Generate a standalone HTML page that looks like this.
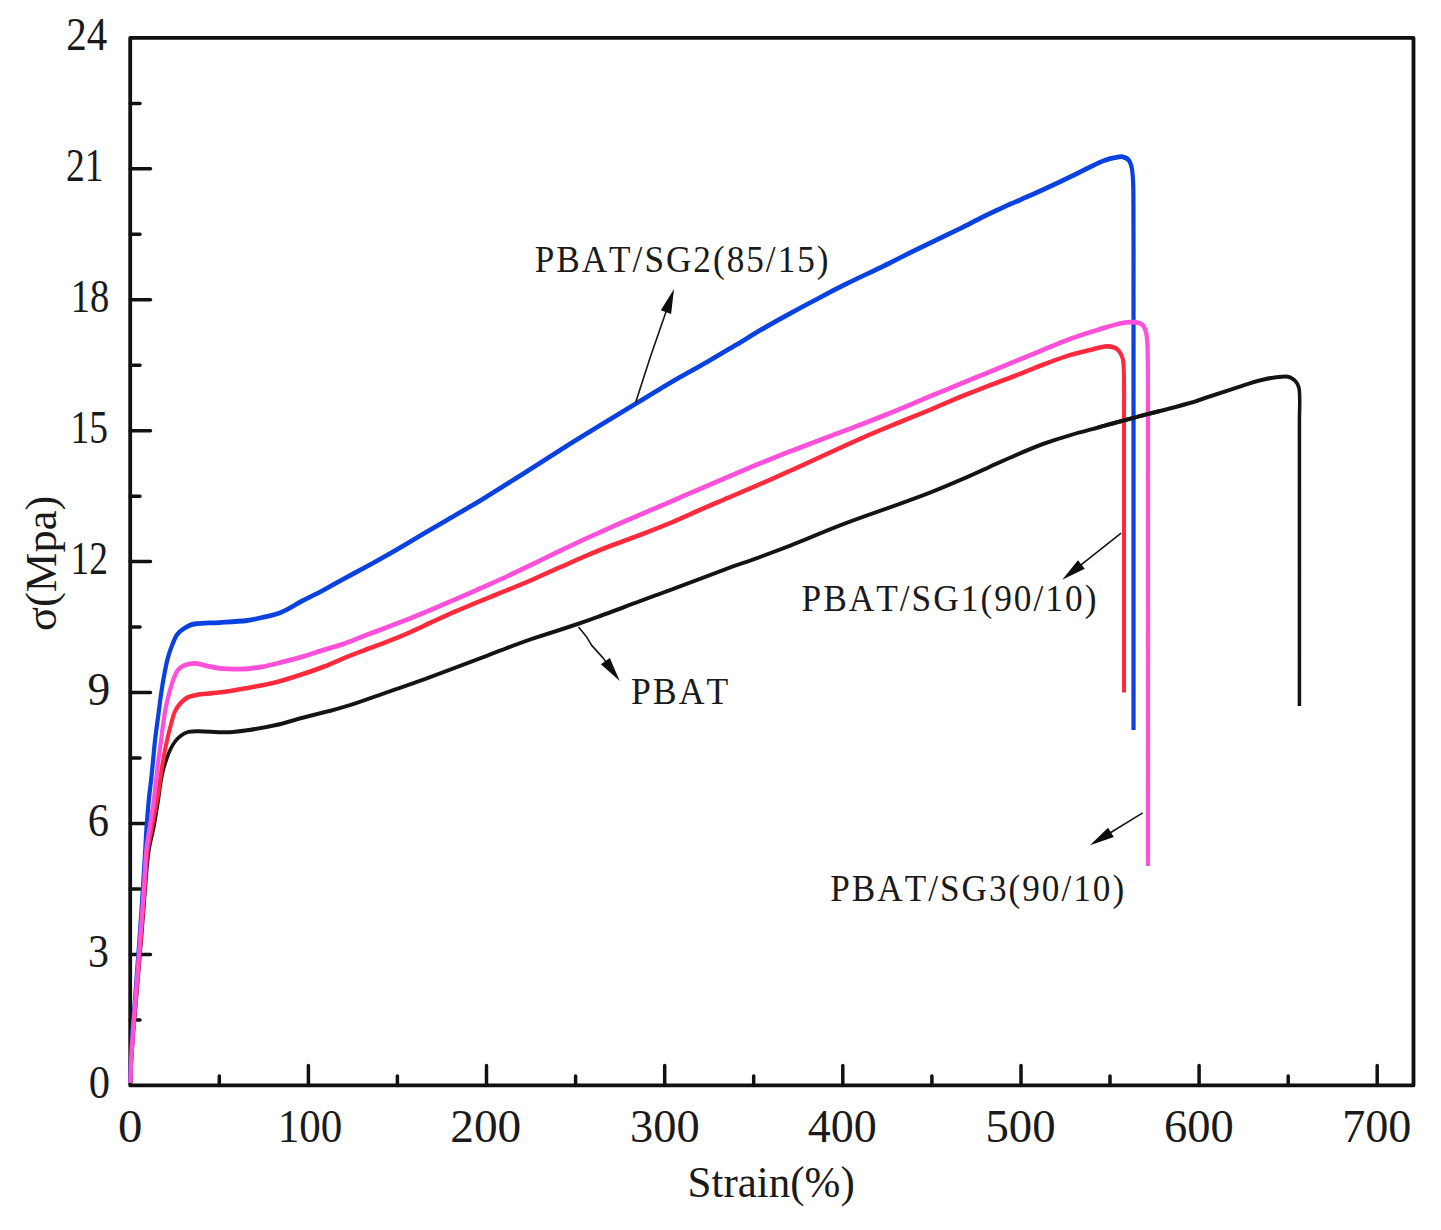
<!DOCTYPE html>
<html><head><meta charset="utf-8"><title>Stress-strain</title>
<style>html,body{margin:0;padding:0;background:#fff;overflow:hidden}svg{display:block}
text{font-family:"Liberation Serif",serif;fill:#1a1a1a;font-kerning:none}</style></head>
<body><svg width="1441" height="1230" viewBox="0 0 1441 1230" font-family="'Liberation Serif', serif" fill="#1a1a1a"><rect x="0" y="0" width="1441" height="1230" fill="#fff"/>
<path d="M219.3,1085.4V1075.9 M308.4,1085.4V1065.6 M397.4,1085.4V1075.9 M486.5,1085.4V1065.6 M575.6,1085.4V1075.9 M664.7,1085.4V1065.6 M753.7,1085.4V1075.9 M842.8,1085.4V1065.6 M931.9,1085.4V1075.9 M1021.0,1085.4V1065.6 M1110.0,1085.4V1075.9 M1199.1,1085.4V1065.6 M1288.2,1085.4V1075.9 M1377.2,1085.4V1065.6 M130.2,1019.9H140.0 M130.2,954.5H150.5 M130.2,889.0H140.0 M130.2,823.5H150.5 M130.2,758.1H140.0 M130.2,692.6H150.5 M130.2,627.1H140.0 M130.2,561.6H150.5 M130.2,496.2H140.0 M130.2,430.7H150.5 M130.2,365.2H140.0 M130.2,299.8H150.5 M130.2,234.3H140.0 M130.2,168.8H150.5 M130.2,103.4H140.0" stroke="#111" stroke-width="3.5" stroke-linecap="round" fill="none"/>
<rect x="130.2" y="37.9" width="1283.3" height="1047.5" stroke="#111" stroke-width="3.8" stroke-linejoin="round" fill="none"/>
<path transform="scale(0.880,1)" d="M148.4,1083.0 C148.8,1075.3 148.9,1067.7 149.4,1060.0 C150.1,1050.0 150.9,1040.0 151.8,1030.0 C152.7,1020.0 153.8,1010.0 154.8,1000.0 C155.7,990.0 156.7,980.0 157.6,970.0 C158.6,960.0 159.5,950.0 160.5,940.0 C161.4,930.0 162.3,920.0 163.2,910.0 C164.1,900.0 164.8,890.0 165.8,880.0 C166.8,870.3 167.5,860.6 169.1,851.0 C170.5,842.6 173.2,834.4 175.0,826.0 C176.8,817.4 178.4,808.7 179.9,800.0 C180.8,794.7 181.4,789.2 182.4,783.9 C183.3,779.0 184.3,774.1 185.7,769.3 C186.8,765.3 188.3,761.4 189.9,757.6 C191.1,754.6 192.4,751.6 194.0,748.8 C195.4,746.2 197.0,743.7 199.0,741.5 C201.0,739.3 203.2,737.2 205.7,735.6 C208.2,734.0 211.0,732.6 214.0,731.9 C217.8,731.1 221.7,731.2 225.6,731.2 C236.1,731.3 246.6,732.5 257.2,732.3 C265.1,732.2 273.0,731.2 280.9,730.2 C291.4,728.9 302.0,727.4 312.4,725.3 C323.0,723.2 333.4,720.1 344.0,717.7 C354.4,715.3 365.0,713.1 375.5,710.7 C382.9,709.0 390.4,707.3 397.7,705.2 C411.4,701.3 425.0,696.9 438.6,692.7 C453.6,688.1 468.6,683.7 483.5,678.9 C504.2,672.2 524.8,665.2 545.5,658.3 C555.3,655.0 565.1,651.5 575.0,648.3 C584.8,645.1 594.7,641.9 604.5,638.9 C614.4,636.0 624.2,633.3 634.1,630.5 C641.5,628.3 649.0,626.2 656.4,624.0 C663.8,621.8 671.2,619.5 678.5,617.1 C688.4,614.0 698.2,610.7 708.1,607.5 C714.5,605.3 720.9,603.1 727.3,601.1 C738.4,597.4 749.5,594.0 760.6,590.4 C771.7,586.7 782.8,583.0 793.9,579.3 C804.9,575.6 815.9,571.9 827.0,568.3 C838.1,564.8 849.3,561.6 860.3,558.1 C871.5,554.5 882.6,550.9 893.6,547.2 C898.8,545.5 903.9,543.5 909.1,541.7 C921.4,537.2 933.6,532.6 946.0,528.3 C958.3,524.0 970.6,520.0 983.0,516.1 C995.3,512.2 1007.7,508.6 1020.0,504.7 C1032.3,500.8 1044.6,496.9 1056.8,492.7 C1068.3,488.7 1079.6,484.5 1090.9,480.2 C1101.4,476.2 1111.8,472.0 1122.3,467.8 C1132.8,463.7 1143.2,459.4 1153.8,455.4 C1164.1,451.4 1174.5,447.5 1185.1,444.0 C1195.5,440.7 1206.0,437.8 1216.5,435.1 C1226.9,432.3 1237.5,430.0 1248.0,427.5 C1256.2,425.5 1264.5,423.4 1272.7,421.5 C1284.1,418.8 1295.4,416.1 1306.8,413.5 C1310.6,412.6 1314.4,411.9 1318.2,411.0 C1330.6,408.1 1343.0,405.3 1355.3,402.2 C1361.2,400.6 1367.0,398.7 1372.8,397.0 C1384.5,393.6 1396.2,390.2 1408.0,386.9 C1416.1,384.6 1424.2,381.9 1432.5,380.2 C1441.8,378.4 1451.1,376.4 1460.6,376.4 C1464.3,376.4 1468.2,377.8 1471.1,380.2 C1473.9,382.4 1475.9,385.9 1476.4,389.4 C1477.7,399.5 1476.6,409.8 1476.6,420.0 C1476.7,515.3 1476.6,610.7 1476.6,706.0" stroke="#141414" stroke-width="4.00" fill="none" stroke-linejoin="round" stroke-linecap="butt"/>
<path transform="scale(0.880,1)" d="M148.3,1083.0 C148.6,1075.3 148.8,1067.7 149.3,1060.0 C149.9,1050.0 150.7,1040.0 151.6,1030.0 C152.4,1020.0 153.5,1010.0 154.4,1000.0 C155.4,990.0 156.3,980.0 157.2,970.0 C158.1,960.0 159.0,950.0 159.9,940.0 C160.8,930.0 161.7,920.0 162.6,910.0 C163.5,900.0 164.2,890.0 165.1,880.0 C166.0,870.3 166.3,860.6 167.7,851.0 C169.0,842.6 171.2,834.3 173.0,826.0 C174.6,818.0 176.2,810.0 177.8,802.0 C178.5,798.9 179.3,795.8 179.9,792.7 C181.1,785.9 182.0,779.0 183.2,772.2 C184.2,766.3 185.3,760.4 186.5,754.6 C187.5,749.7 188.6,744.8 189.9,740.0 C191.1,735.1 192.5,730.2 194.0,725.4 C195.5,720.6 196.6,715.6 198.9,711.2 C200.6,707.9 203.2,705.1 205.9,702.5 C208.0,700.5 210.4,698.5 213.1,697.5 C217.6,695.8 222.5,695.0 227.3,694.3 C232.0,693.6 236.7,693.5 241.5,693.1 C246.2,692.7 251.0,692.4 255.7,691.8 C265.2,690.6 274.6,689.0 284.1,687.5 C293.6,685.9 303.1,684.6 312.5,682.5 C322.1,680.4 331.5,677.7 340.9,675.0 C350.4,672.3 359.9,669.4 369.3,666.2 C375.9,664.0 382.3,661.1 388.9,658.8 C397.2,655.8 405.7,653.0 414.1,650.2 C422.5,647.4 431.0,644.8 439.3,641.9 C447.8,639.0 456.2,636.0 464.5,632.8 C473.0,629.5 481.4,625.9 489.8,622.5 C498.2,619.1 506.5,615.7 515.0,612.4 C525.1,608.6 535.3,604.9 545.5,601.2 C555.3,597.6 565.2,594.2 575.0,590.7 C584.9,587.1 594.7,583.5 604.5,579.8 C614.4,576.0 624.2,572.1 634.1,568.2 C644.0,564.4 653.8,560.4 663.8,556.6 C673.5,553.0 683.4,549.4 693.3,546.0 C704.6,542.2 716.0,538.8 727.3,535.0 C738.4,531.2 749.5,527.5 760.6,523.4 C771.7,519.3 782.8,514.8 793.9,510.5 C804.9,506.2 816.0,502.1 827.0,497.9 C838.1,493.7 849.3,489.7 860.3,485.4 C871.5,481.2 882.5,476.8 893.6,472.4 C898.8,470.4 903.9,468.4 909.1,466.3 C921.4,461.4 933.7,456.3 946.0,451.4 C958.3,446.5 970.6,441.4 983.0,436.6 C995.2,431.9 1007.6,427.5 1020.0,423.0 C1032.3,418.5 1044.6,414.2 1056.8,409.8 C1068.2,405.6 1079.5,401.2 1090.9,397.0 C1101.3,393.3 1111.8,389.7 1122.3,386.1 C1132.7,382.6 1143.3,379.3 1153.8,375.7 C1164.2,372.2 1174.6,368.2 1185.1,364.7 C1195.5,361.3 1205.9,357.8 1216.5,354.9 C1224.3,352.8 1232.2,351.4 1240.1,349.7 C1245.3,348.6 1250.5,347.0 1255.8,346.5 C1258.9,346.2 1262.2,346.5 1265.2,347.3 C1267.4,347.9 1269.5,348.9 1271.0,350.5 C1273.2,352.8 1275.0,355.5 1275.8,358.5 C1277.1,363.6 1277.0,368.9 1277.2,374.1 C1277.5,389.4 1277.3,404.7 1277.3,420.0 C1277.3,510.8 1277.3,601.7 1277.3,692.5" stroke="#ff2a3c" stroke-width="4.60" fill="none" stroke-linejoin="round" stroke-linecap="butt"/>
<path transform="scale(0.880,1)" d="M148.1,1083.0 C148.3,1075.3 148.5,1067.7 148.9,1060.0 C149.4,1050.0 149.9,1040.0 150.7,1030.0 C151.4,1020.0 152.5,1010.0 153.4,1000.0 C154.3,990.0 155.1,980.0 155.9,970.0 C156.7,960.0 157.6,950.0 158.4,940.0 C159.2,930.0 160.0,920.0 160.8,910.0 C161.6,900.0 162.2,890.0 163.0,880.0 C163.6,870.3 164.3,860.7 165.0,851.0 C165.6,842.0 166.1,833.0 166.8,824.0 C167.5,816.0 168.2,808.0 169.1,800.0 C169.8,793.7 170.8,787.3 171.6,781.0 C172.5,773.7 173.3,766.3 174.1,759.0 C174.9,751.7 175.6,744.4 176.6,737.1 C177.6,729.7 178.8,722.4 179.9,715.1 C181.0,707.8 182.0,700.5 183.2,693.2 C184.2,687.3 185.2,681.4 186.5,675.6 C187.7,669.7 188.9,663.8 190.7,658.0 C192.0,653.5 193.8,649.2 195.7,644.9 C197.3,641.4 198.7,637.8 201.1,634.8 C203.3,632.2 206.1,630.1 209.1,628.5 C212.8,626.5 216.7,624.6 220.9,624.0 C230.3,622.6 239.9,623.2 249.3,622.6 C259.9,622.0 270.4,621.6 280.9,620.5 C286.6,619.9 292.2,618.7 297.7,617.5 C304.9,616.0 312.2,614.9 319.1,612.4 C327.3,609.5 334.8,604.9 342.7,601.3 C350.6,597.7 358.6,594.3 366.5,590.6 C374.4,586.9 382.2,582.9 390.1,579.1 C398.0,575.3 405.9,571.7 413.8,567.9 C421.7,564.1 429.5,560.3 437.4,556.4 C445.3,552.4 453.2,548.4 461.0,544.3 C469.0,540.2 476.8,536.0 484.8,531.9 C492.6,527.8 500.5,523.8 508.4,519.8 C521.6,513.0 535.0,506.4 548.1,499.4 C564.2,490.7 580.1,481.8 596.1,472.9 C612.2,463.9 628.0,454.8 644.1,445.9 C660.0,437.1 676.1,428.5 692.2,419.9 C703.8,413.6 715.6,407.4 727.3,401.1 C735.7,396.6 744.1,392.0 752.5,387.6 C759.2,384.1 766.0,380.6 772.7,377.2 C783.2,372.0 793.8,366.9 804.3,361.6 C814.9,356.3 825.3,350.7 835.8,345.2 C846.3,339.7 856.8,333.9 867.4,328.5 C877.8,323.2 888.3,318.0 898.9,313.0 C909.3,307.9 919.9,303.0 930.5,298.1 C940.9,293.2 951.4,288.4 961.9,283.8 C974.6,278.3 987.3,273.1 1000.0,267.7 C1003.3,266.3 1006.7,265.0 1010.0,263.5 C1018.4,259.8 1026.8,256.0 1035.2,252.3 C1043.6,248.7 1052.0,245.1 1060.5,241.5 C1070.6,237.2 1080.8,232.9 1090.9,228.6 C1099.4,224.9 1107.7,221.0 1116.1,217.3 C1124.5,213.7 1132.9,210.1 1141.4,206.8 C1149.7,203.4 1158.2,200.3 1166.6,197.1 C1175.0,193.8 1183.4,190.5 1191.8,187.0 C1200.3,183.6 1208.7,180.1 1217.0,176.5 C1225.5,172.9 1233.8,169.1 1242.3,165.5 C1246.4,163.7 1250.6,161.9 1254.9,160.5 C1258.8,159.2 1262.9,158.3 1266.9,157.6 C1269.9,157.1 1272.9,156.3 1275.8,156.9 C1278.5,157.4 1281.6,158.5 1283.2,160.8 C1285.7,164.6 1286.6,169.3 1287.0,173.8 C1288.2,184.1 1287.9,194.6 1288.0,205.0 C1288.2,236.7 1288.1,268.3 1288.1,300.0 C1288.1,443.3 1288.1,586.7 1288.1,730.0" stroke="#0a42e0" stroke-width="4.80" fill="none" stroke-linejoin="round" stroke-linecap="butt"/>
<path transform="scale(0.880,1)" d="M148.2,1083.0 C148.5,1075.3 148.7,1067.7 149.1,1060.0 C149.6,1050.0 150.3,1040.0 151.1,1030.0 C151.9,1020.0 153.0,1010.0 153.9,1000.0 C154.8,990.0 155.6,980.0 156.5,970.0 C157.3,960.0 158.2,950.0 159.1,940.0 C160.0,930.0 160.9,920.0 161.7,910.0 C162.5,900.0 163.3,890.0 164.1,880.0 C164.8,870.3 165.1,860.6 166.2,851.0 C167.3,842.3 169.0,833.7 170.5,825.0 C171.9,816.7 173.7,808.4 174.9,800.0 C176.5,788.8 177.6,777.5 179.1,766.3 C180.1,759.0 181.3,751.7 182.4,744.4 C183.5,737.1 184.5,729.7 185.7,722.4 C186.7,716.5 187.6,710.7 189.0,704.9 C190.1,699.9 191.6,695.1 193.2,690.2 C194.4,686.3 195.7,682.3 197.4,678.5 C198.7,675.5 200.1,672.3 202.3,669.8 C204.1,667.8 206.5,666.3 209.1,665.4 C212.9,664.1 216.9,663.4 220.9,663.4 C225.2,663.4 229.3,664.9 233.5,665.6 C238.8,666.5 244.0,667.9 249.3,668.4 C257.2,669.1 265.1,669.3 273.0,669.1 C280.9,668.9 288.8,668.1 296.6,667.0 C304.6,665.8 312.5,663.9 320.3,662.2 C328.2,660.5 336.1,658.6 344.0,656.6 C350.6,654.9 357.1,652.9 363.6,651.1 C372.0,648.8 380.5,646.9 388.9,644.4 C397.4,641.8 405.7,638.6 414.1,635.8 C422.5,633.0 430.9,630.3 439.3,627.5 C447.7,624.6 456.2,621.8 464.5,618.9 C473.0,615.9 481.4,612.8 489.8,609.7 C498.2,606.6 506.6,603.4 515.0,600.2 C525.2,596.3 535.3,592.5 545.5,588.6 C555.3,584.7 565.2,580.9 575.0,576.9 C584.9,572.8 594.7,568.6 604.5,564.5 C614.4,560.3 624.2,556.0 634.1,551.8 C644.0,547.6 653.8,543.5 663.8,539.4 C673.6,535.5 683.4,531.6 693.3,527.7 C704.6,523.3 715.9,519.1 727.3,514.8 C738.4,510.6 749.5,506.5 760.6,502.2 C771.7,498.0 782.8,493.7 793.9,489.5 C804.9,485.3 816.0,481.0 827.0,476.9 C838.1,472.7 849.2,468.6 860.3,464.6 C871.4,460.6 882.5,456.7 893.6,452.8 C898.8,451.1 903.9,449.3 909.1,447.6 C921.4,443.4 933.7,439.3 946.0,435.2 C958.3,431.1 970.7,427.2 983.0,423.0 C995.3,418.8 1007.7,414.4 1020.0,410.0 C1032.3,405.5 1044.5,400.8 1056.8,396.3 C1068.2,392.2 1079.5,388.1 1090.9,384.0 C1101.4,380.2 1111.8,376.5 1122.3,372.7 C1132.8,368.9 1143.3,365.1 1153.8,361.3 C1164.2,357.5 1174.6,353.7 1185.1,349.9 C1195.6,346.1 1205.9,342.1 1216.5,338.7 C1226.9,335.4 1237.4,332.5 1248.0,329.7 C1256.2,327.5 1264.4,325.1 1272.7,323.5 C1277.6,322.6 1282.6,321.9 1287.6,322.1 C1291.2,322.3 1295.0,322.7 1298.0,324.7 C1300.4,326.4 1301.6,329.6 1302.4,332.5 C1303.7,337.6 1303.9,342.9 1304.1,348.1 C1304.6,365.4 1304.5,382.7 1304.5,400.0 C1304.7,555.3 1304.5,710.7 1304.5,866.0" stroke="#ff50da" stroke-width="4.80" fill="none" stroke-linejoin="round" stroke-linecap="butt"/>
<path transform="scale(0.880,1)" d="M1248.0,427.5 C1256.2,425.5 1264.5,423.4 1272.7,421.5 C1284.1,418.8 1295.4,416.1 1306.8,413.5 C1310.6,412.6 1314.4,411.8 1318.2,411.0" stroke="#141414" stroke-width="4.00" fill="none" stroke-linejoin="round" stroke-linecap="butt"/>
<text x="130.2" y="1142.0" font-size="46.5" text-anchor="middle" transform="translate(119.50,0) scale(1.0500,1) translate(-120.00,0)">0</text>
<text x="308.4" y="1142.0" font-size="46.5" text-anchor="middle" transform="translate(281.90,0) scale(0.9266,1) translate(-278.00,0)">100</text>
<text x="486.5" y="1142.0" font-size="46.5" text-anchor="middle" transform="translate(452.70,0) scale(1.0182,1) translate(-454.00,0)">200</text>
<text x="664.7" y="1142.0" font-size="46.5" text-anchor="middle" transform="translate(632.20,0) scale(0.9985,1) translate(-632.00,0)">300</text>
<text x="842.8" y="1142.0" font-size="46.5" text-anchor="middle" transform="translate(808.90,0) scale(0.9896,1) translate(-809.00,0)">400</text>
<text x="1021.0" y="1142.0" font-size="46.5" text-anchor="middle" transform="translate(988.30,0) scale(1.0062,1) translate(-989.00,0)">500</text>
<text x="1199.1" y="1142.0" font-size="46.5" text-anchor="middle" transform="translate(1165.90,0) scale(1.0000,1) translate(-1166.00,0)">600</text>
<text x="1377.2" y="1142.0" font-size="46.5" text-anchor="middle" transform="translate(1344.80,0) scale(0.9938,1) translate(-1345.00,0)">700</text>
<text x="108.0" y="1097.7" font-size="46.5" text-anchor="end" transform="translate(89.90,0) scale(0.9150,1) translate(-86.00,0)">0</text>
<text x="108.0" y="966.8" font-size="46.5" text-anchor="end" transform="translate(89.90,0) scale(0.9000,1) translate(-87.00,0)">3</text>
<text x="108.0" y="835.8" font-size="46.5" text-anchor="end" transform="translate(89.90,0) scale(0.9150,1) translate(-87.00,0)">6</text>
<text x="108.0" y="704.9" font-size="46.5" text-anchor="end" transform="translate(88.80,0) scale(0.9800,1) translate(-86.00,0)">9</text>
<text x="108.0" y="573.9" font-size="46.5" text-anchor="end" transform="translate(74.10,0) scale(0.8050,1) translate(-66.00,0)">12</text>
<text x="108.0" y="443.0" font-size="46.5" text-anchor="end" transform="translate(74.10,0) scale(0.8050,1) translate(-66.00,0)">15</text>
<text x="108.0" y="312.1" font-size="46.5" text-anchor="end" transform="translate(74.50,0) scale(0.8300,1) translate(-66.00,0)">18</text>
<text x="108.0" y="181.1" font-size="46.5" text-anchor="end" transform="translate(67.20,0) scale(0.8071,1) translate(-63.00,0)">21</text>
<text x="108.0" y="50.2" font-size="46.5" text-anchor="end" transform="translate(67.50,0) scale(0.8818,1) translate(-63.00,0)">24</text>
<text x="771.5" y="1197.5" font-size="44.5" text-anchor="middle" transform="translate(690.50,0) scale(0.9661,1) translate(-688.00,0)">Strain(&#37;)</text>
<text x="535.0" y="271.6" font-size="38.5" text-anchor="start" letter-spacing="2.2" transform="translate(535.60,0) scale(0.9138,1) translate(-536.00,0)">PBAT/SG2(85/15)</text>
<text x="802.4" y="611.5" font-size="38.5" text-anchor="start" letter-spacing="2.2" transform="translate(803.00,0) scale(0.9167,1) translate(-804.00,0)">PBAT/SG1(90/10)</text>
<text x="830.3" y="900.8" font-size="38.5" text-anchor="start" letter-spacing="2.2" transform="translate(830.90,0) scale(0.9138,1) translate(-831.00,0)">PBAT/SG3(90/10)</text>
<text x="631.6" y="704.5" font-size="38.5" text-anchor="start" letter-spacing="2.2" transform="translate(632.30,0) scale(0.9262,1) translate(-633.00,0)">PBAT</text>
<text transform="translate(56,563.4) rotate(-90)" font-size="44.5" text-anchor="middle">&#963;(Mpa)</text>
<path d="M635.8,402.0 L650.0,358.0 L666.9,309.3" stroke="#151515" stroke-width="1.6" fill="none" stroke-linejoin="round"/>
<path d="M674.0,289.0L671.1,313.9L660.8,310.3Z" fill="#0d0d0d"/>
<path d="M1121.1,533.1 L1079.1,566.4" stroke="#151515" stroke-width="1.6" fill="none" stroke-linejoin="round"/>
<path d="M1062.2,579.7L1078.0,560.2L1084.8,568.8Z" fill="#0d0d0d"/>
<path d="M1142.7,812.9 L1108.3,834.0" stroke="#151515" stroke-width="1.6" fill="none" stroke-linejoin="round"/>
<path d="M1090.0,845.2L1108.0,827.7L1113.8,837.1Z" fill="#0d0d0d"/>
<path d="M578.5,626.9 L586.9,637.3 L591.5,645.1 L603.2,658.1 L607.1,663.5" stroke="#151515" stroke-width="1.6" fill="none" stroke-linejoin="round"/>
<path d="M619.8,680.9L600.9,664.3L609.8,657.9Z" fill="#0d0d0d"/></svg></body></html>
